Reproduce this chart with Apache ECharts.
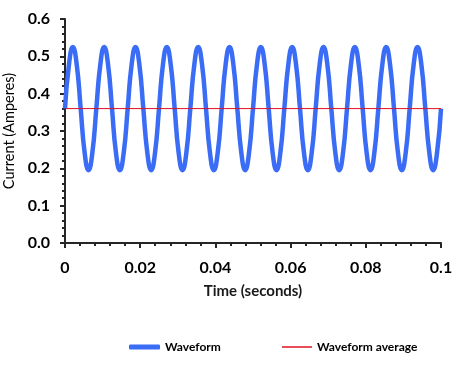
<!DOCTYPE html>
<html>
<head>
<meta charset="utf-8">
<script src="https://cdn.jsdelivr.net/npm/echarts@6/dist/echarts.min.js"></script>
<style>html,body{margin:0;padding:0;background:#fff}#c{width:458px;height:379px}</style>
</head>
<body>
<div id="c"></div>
<script>
// Time samples (seconds) (~1/8 of a cycle apart)
var times = [
  0, 0.00104, 0.00208, 0.00313, 0.00417, 0.00521, 0.00625, 0.00729,
  0.00833, 0.00938, 0.01042, 0.01146, 0.0125, 0.01354, 0.01458, 0.01563,
  0.01667, 0.01771, 0.01875, 0.01979, 0.02083, 0.02188, 0.02292, 0.02396,
  0.025, 0.02604, 0.02708, 0.02813, 0.02917, 0.03021, 0.03125, 0.03229,
  0.03333, 0.03438, 0.03542, 0.03646, 0.0375, 0.03854, 0.03958, 0.04063,
  0.04167, 0.04271, 0.04375, 0.04479, 0.04583, 0.04688, 0.04792, 0.04896,
  0.05, 0.05104, 0.05208, 0.05313, 0.05417, 0.05521, 0.05625, 0.05729,
  0.05833, 0.05938, 0.06042, 0.06146, 0.0625, 0.06354, 0.06458, 0.06563,
  0.06667, 0.06771, 0.06875, 0.06979, 0.07083, 0.07188, 0.07292, 0.07396,
  0.075, 0.07604, 0.07708, 0.07813, 0.07917, 0.08021, 0.08125, 0.08229,
  0.08333, 0.08438, 0.08542, 0.08646, 0.0875, 0.08854, 0.08958, 0.09063,
  0.09167, 0.09271, 0.09375, 0.09479, 0.09583, 0.09688, 0.09792, 0.09896,
  0.1
];
// Current (A) at those times
var current = [
  0.36, 0.477, 0.525, 0.477, 0.36, 0.243, 0.195, 0.243,
  0.36, 0.477, 0.525, 0.477, 0.36, 0.243, 0.195, 0.243,
  0.36, 0.477, 0.525, 0.477, 0.36, 0.243, 0.195, 0.243,
  0.36, 0.477, 0.525, 0.477, 0.36, 0.243, 0.195, 0.243,
  0.36, 0.477, 0.525, 0.477, 0.36, 0.243, 0.195, 0.243,
  0.36, 0.477, 0.525, 0.477, 0.36, 0.243, 0.195, 0.243,
  0.36, 0.477, 0.525, 0.477, 0.36, 0.243, 0.195, 0.243,
  0.36, 0.477, 0.525, 0.477, 0.36, 0.243, 0.195, 0.243,
  0.36, 0.477, 0.525, 0.477, 0.36, 0.243, 0.195, 0.243,
  0.36, 0.477, 0.525, 0.477, 0.36, 0.243, 0.195, 0.243,
  0.36, 0.477, 0.525, 0.477, 0.36, 0.243, 0.195, 0.243,
  0.36, 0.477, 0.525, 0.477, 0.36, 0.243, 0.195, 0.243,
  0.36
];
var avgTimes = [0, 0.1];
var avgValues = [0.36, 0.36];
var xTickLabels = ['0', '0.02', '0.04', '0.06', '0.08', '0.1'];
var yTickLabels = ['0.0', '0.1', '0.2', '0.3', '0.4', '0.5', '0.6'];

var wave = times.map(function (t, i) { return [t, current[i]]; });
var avg = avgTimes.map(function (t, i) { return [t, avgValues[i]]; });

var font = 'Lato, "Open Sans", "Liberation Sans", sans-serif';
var axisCol = '#262626';
var blue = '#3b6cf6';
var red = '#e0101e';
var legendText = {fontFamily: font, fontSize: 12, fontWeight: 'bold', color: '#000'};
var chart = echarts.init(document.getElementById('c'), null, {renderer: 'canvas'});
chart.setOption({
  animation: false,
  backgroundColor: '#fff',
  grid: {left: 65, right: 17, top: 19, bottom: 136, containLabel: false, outerBoundsMode: 'none'},
  legend: [
    {
      left: 124, top: 336, itemWidth: 31, itemHeight: 5, icon: 'roundRect',
      textStyle: legendText, data: ['Waveform']
    },
    {
      left: 277, top: 336, itemWidth: 30, itemHeight: 1.5, icon: 'rect',
      textStyle: legendText, data: ['Waveform average']
    }
  ],
  xAxis: {
    type: 'value', min: 0, max: 0.1, interval: 0.02,
    name: 'Time (seconds)', nameLocation: 'middle', nameGap: 41,
    nameTextStyle: {fontFamily: font, fontSize: 15, fontWeight: 'bold', color: '#1a1a1a'},
    axisLine: {show: true, onZero: false, lineStyle: {color: axisCol, width: 2}},
    axisTick: {show: true, inside: false, length: 5, lineStyle: {color: axisCol, width: 2}},
    minorTick: {show: true, splitNumber: 5, length: 3, lineStyle: {color: axisCol, width: 2}},
    splitLine: {show: false},
    axisLabel: {
      margin: 17, fontFamily: font, fontSize: 16, fontWeight: 'bold', color: '#000',
      formatter: function (v) { return xTickLabels[Math.round(v / 0.02)]; }
    }
  },
  yAxis: {
    type: 'value', min: 0, max: 0.6, interval: 0.1,
    name: 'Current (Amperes)', nameLocation: 'middle', nameGap: 46,
    nameTextStyle: {fontFamily: font, fontSize: 14.5, color: '#000'},
    axisLine: {show: true, lineStyle: {color: axisCol, width: 2}},
    axisTick: {show: true, inside: false, length: 5, lineStyle: {color: axisCol, width: 2}},
    minorTick: {show: true, splitNumber: 5, length: 3, lineStyle: {color: axisCol, width: 2}},
    splitLine: {show: false},
    axisLabel: {
      margin: 15, fontFamily: font, fontSize: 16, fontWeight: 'bold', color: '#000',
      formatter: function (v) { return yTickLabels[Math.round(v / 0.1)]; }
    }
  },
  series: [
    {
      name: 'Waveform', type: 'line', data: wave, smooth: 0.5,
      symbol: 'none', showSymbol: false,
      lineStyle: {color: blue, width: 4.5},
      itemStyle: {color: blue}, z: 2
    },
    {
      name: 'Waveform average', type: 'line', data: avg,
      symbol: 'none', showSymbol: false,
      lineStyle: {color: red, width: 1},
      itemStyle: {color: red}, z: 3
    }
  ]
});
</script>
</body>
</html>
